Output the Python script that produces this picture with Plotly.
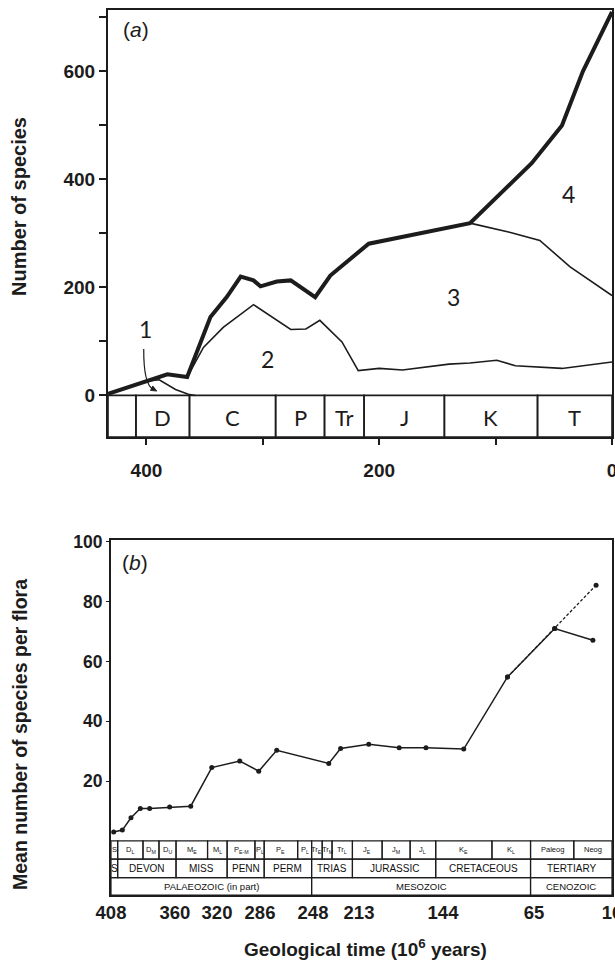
import numpy as np
import plotly.graph_objects as go

# ---------- (a) number of species through time (ages in Ma) ----------
age_total = [433, 420, 401, 382, 365, 345, 331, 319, 308, 302, 288, 276, 255, 242, 209, 162, 122, 69, 43, 25, 0]
sp_total = [3, 12, 25, 39, 34, 145, 182, 220, 213, 202, 211, 213, 182, 222, 281, 302, 319, 430, 500, 600, 710]

age_g1 = [398, 389, 375, 364, 358]
sp_g1 = [27, 29, 11, 2, 0]

age_g2 = [365, 351, 334, 308, 276, 263, 251, 232, 218, 200, 180, 165, 140, 122, 99, 83, 43, 0]
sp_g2 = [34, 89, 126, 168, 122, 123, 139, 99, 46, 50, 47, 51, 58, 60, 65, 55, 50, 62]

age_g3 = [122, 88, 62, 36, 0]
sp_g3 = [319, 302, 287, 238, 185]

group_labels = ["1", "2", "3", "4"]
group_label_age = [401, 296, 136, 37]
group_label_sp = [123, 68, 182, 373]

periods_a = ["", "D", "C", "P", "Tr", "J", "K", "T"]
periods_a_bounds = [433, 409, 363, 289, 247, 213, 144, 64, 0]

# ---------- (b) mean number of species per flora ----------
age_b = [406, 399.5, 393, 386, 379, 364, 345, 325, 302, 287, 274, 236, 227, 205, 180, 158, 126, 88, 52, 28]
mean_b = [3.0, 3.6, 7.7, 10.8, 10.8, 11.3, 11.6, 24.5, 26.7, 23.3, 30.3, 25.9, 30.9, 32.3, 31.1, 31.1, 30.7, 54.8, 71.0, 67.1]
age_b_dash = [88, 52, 26]
mean_b_dash = [54.8, 71.0, 85.5]

tick_age_b = [408, 360, 320, 286, 248, 213, 144, 65, 16]

stages = ["S", "D<sub>L</sub>", "D<sub>M</sub>", "D<sub>U</sub>", "M<sub>E</sub>", "M<sub>L</sub>",
          "P<sub>E-M</sub>", "P<sub>L</sub>", "P<sub>E</sub>", "P<sub>L</sub>", "Tr<sub>E</sub>",
          "Tr<sub>M</sub>", "Tr<sub>L</sub>", "J<sub>E</sub>", "J<sub>M</sub>", "J<sub>L</sub>",
          "K<sub>E</sub>", "K<sub>L</sub>", "Paleog", "Neog"]
stage_bounds = [408, 403, 384, 372, 359, 329, 312, 290, 283, 259, 249, 241, 233.5, 218, 194, 171, 150, 101.5, 68, 40, 16]

systems = ["S", "DEVON", "MISS", "PENN", "PERM", "TRIAS", "JURASSIC", "CRETACEOUS", "TERTIARY"]
system_bounds = [408, 403, 359, 312, 283, 249, 218, 150, 68, 16]

eras = ["PALAEOZOIC (in part)", "MESOZOIC", "CENOZOIC"]
era_bounds = [408, 249, 68, 16]

# the time scale of (b) is not linear: where each labelled age sits along the axis
TICK_POS_B = [0, 0.1277, 0.2116, 0.2974, 0.4032, 0.4950, 0.6627, 0.8443, 1.0]


def b_pos(ages):
    return np.interp(-np.asarray(ages, float), -np.asarray(tick_age_b, float), TICK_POS_B)


INK = "#1c1c1c"
SANS = "Liberation Sans, Arial, sans-serif"
HUMAN = "Lato, Open Sans, sans-serif"

fig = go.Figure()

# panel (a) curves
fig.add_trace(go.Scatter(x=age_total, y=sp_total, mode="lines", line=dict(color=INK, width=4),
                         xaxis="x", yaxis="y", showlegend=False))
for a, s in [(age_g1, sp_g1), (age_g2, sp_g2), (age_g3, sp_g3)]:
    fig.add_trace(go.Scatter(x=a, y=s, mode="lines", line=dict(color=INK, width=1.6),
                             xaxis="x", yaxis="y", showlegend=False))

# panel (b) curves
fig.add_trace(go.Scatter(x=b_pos(age_b_dash), y=mean_b_dash, mode="lines+markers",
                         line=dict(color=INK, width=1.3, dash="3px,2px"),
                         marker=dict(size=5, color=INK), xaxis="x2", yaxis="y2", showlegend=False))
fig.add_trace(go.Scatter(x=b_pos(age_b), y=mean_b, mode="lines+markers",
                         line=dict(color=INK, width=1.5), marker=dict(size=5, color=INK),
                         xaxis="x2", yaxis="y2", showlegend=False))

shapes = []
annotations = []


def note(**kw):
    kw.setdefault("showarrow", False)
    kw.setdefault("xanchor", "center")
    kw.setdefault("yanchor", "middle")
    annotations.append(kw)


# period strip for (a)
A_STRIP = -77
for i, name in enumerate(periods_a):
    x0, x1 = periods_a_bounds[i], periods_a_bounds[i + 1]
    shapes.append(dict(type="rect", xref="x", yref="y", x0=x0, x1=x1, y0=A_STRIP, y1=0,
                       line=dict(color=INK, width=1.6)))
    if name:
        note(x=(x0 + x1) / 2, y=-41, xref="x", yref="y", text=name,
             font=dict(family=HUMAN, size=22, color=INK))

for t, a, s in zip(group_labels, group_label_age, group_label_sp):
    note(x=a, y=s, xref="x", yref="y", text=t, font=dict(family=HUMAN, size=23, color=INK))

# curved leader from label 1 to its small hump, with a small filled head
shapes.append(dict(type="path", xref="x", yref="y", path="M 402.3 86 Q 402.5 20 394 11",
                   line=dict(color=INK, width=1.2)))
shapes.append(dict(type="path", xref="x", yref="y", path="M 391 8 L 396.5 9.3 L 394.5 17.5 Z",
                   line=dict(color=INK, width=0.8), fillcolor=INK))

# time-scale rows for (b)
rows = [(stages, stage_bounds, 0, -6.1, 7.5), (systems, system_bounds, -6.1, -12.3, 10),
        (eras, era_bounds, -12.3, -18.1, 9.5)]
for names, bounds, y1, y0, fs in rows:
    pos = b_pos(bounds)
    for i, name in enumerate(names):
        shapes.append(dict(type="rect", xref="x2", yref="y2", x0=pos[i], x1=pos[i + 1], y0=y0, y1=y1,
                           line=dict(color=INK, width=1.2)))
        note(x=(pos[i] + pos[i + 1]) / 2, y=(y0 + y1) / 2, xref="x2", yref="y2", text=name,
             font=dict(family=SANS, size=fs, color="#111111"))

# panel letters
note(x=136 / 615, y=1 - 30 / 968, xref="paper", yref="paper", text="(<i>a</i>)",
     font=dict(family=SANS, size=21, color=INK))
note(x=135 / 615, y=1 - 562 / 968, xref="paper", yref="paper", text="(<i>b</i>)",
     font=dict(family=SANS, size=21, color=INK))

# axis titles
note(x=19 / 615, y=1 - 207 / 968, xref="paper", yref="paper", text="Number of species", textangle=-90,
     font=dict(family=SANS, size=20, color=INK, weight="bold"))
note(x=20 / 615, y=1 - 735 / 968, xref="paper", yref="paper", text="Mean number of species per flora",
     textangle=-90, font=dict(family=SANS, size=19.5, color=INK, weight="bold"))
note(x=365 / 615, y=1 - 948 / 968, xref="paper", yref="paper", text="Geological time (10<sup>6</sup> years)",
     font=dict(family=SANS, size=19, color=INK, weight="bold"))

axis_common = dict(showline=True, mirror=True, linecolor=INK, linewidth=2, showgrid=False, zeroline=False,
                   automargin=False, ticklabeloverflow="allow", tickcolor=INK,
                   tickfont=dict(family=SANS, size=19, color=INK, weight="bold"))

fig.update_layout(
    width=615, height=968, margin=dict(l=0, r=0, t=0, b=0, autoexpand=False),
    paper_bgcolor="white", plot_bgcolor="white",
    shapes=shapes, annotations=annotations,
    xaxis=dict(domain=[108 / 615, 612 / 615], range=[433, 0], anchor="y",
               tickvals=[400, 200, 0], ticks="outside", ticklen=6, tickwidth=1.5, ticklabelstandoff=9,
               minor=dict(tickvals=[300, 100], ticks="outside", ticklen=6, tickwidth=1.5, tickcolor=INK),
               **axis_common),
    yaxis=dict(domain=[1 - 437 / 968, 1 - 10 / 968], range=[A_STRIP, 713.7], anchor="x",
               tickvals=[0, 200, 400, 600], ticks="outside", ticklen=7, tickwidth=1.5,
               minor=dict(tickvals=[100, 300, 500, 700], ticks="outside", ticklen=7, tickwidth=1.5,
                          tickcolor=INK),
               **axis_common),
    xaxis2=dict(domain=[111 / 615, 612 / 615], range=[0, 1], anchor="y2",
                tickvals=b_pos(tick_age_b), ticktext=[str(a) for a in tick_age_b],
                ticks="", ticklabelstandoff=0, **axis_common),
    yaxis2=dict(domain=[1 - 895 / 968, 1 - 540 / 968], range=[-18.1, 100.6], anchor="x2",
                tickvals=[20, 40, 60, 80, 100], ticks="outside", ticklen=3, tickwidth=1.2,
                ticklabelstandoff=0, **axis_common),
)
fig.update_layout(yaxis2_tickfont_size=17.5, xaxis2_tickfont_size=18.5)

fig.write_html("out.html", config={"displayModeBar": False},
               post_script="document.body.style.margin='0';document.body.style.overflow='hidden';")
